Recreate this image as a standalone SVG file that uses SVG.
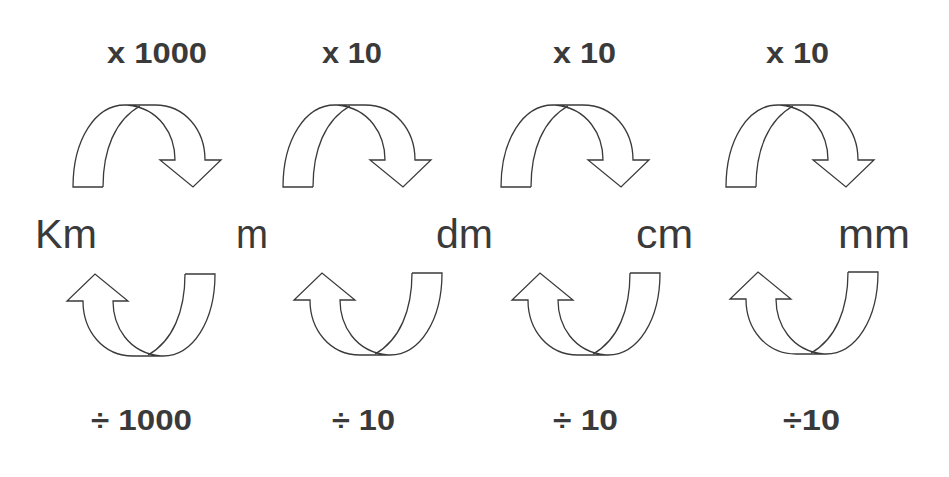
<svg xmlns="http://www.w3.org/2000/svg" xmlns:xlink="http://www.w3.org/1999/xlink" width="949" height="477" viewBox="0 0 949 477">
<style>
.arr{fill:none;stroke:#3a3a3a;stroke-width:1.3;stroke-linejoin:miter}
.op{font-family:"Liberation Sans",Arial,sans-serif;font-weight:bold;font-size:29px;fill:#3a3a3a}
.unit{font-family:"Liberation Sans",Arial,sans-serif;font-size:40px;fill:#3a3a3a}
</style>
<defs>
<g id="curl">
<path class="arr" d="M103,187 L73,187 C73,140 95,105 125,105 L155,105 C185,105 205,130 205,160 L221,160 L193,187 L160,160 L175,160 C175,135 160,108 127,105"/>
<path class="arr" d="M103,187 C103,150 115,120 140,106"/>
</g>
</defs>
<rect width="949" height="477" fill="#ffffff"/>
<g id="connectors">
<use xlink:href="#curl"/>
<use xlink:href="#curl" transform="translate(210,0)"/>
<use xlink:href="#curl" transform="translate(428,0)"/>
<use xlink:href="#curl" transform="translate(653,0)"/>
<use xlink:href="#curl" transform="translate(0,0) rotate(180,144,230.5)"/>
<use xlink:href="#curl" transform="translate(227,-1) rotate(180,144,230.5)"/>
<use xlink:href="#curl" transform="translate(445,-1) rotate(180,144,230.5)"/>
<use xlink:href="#curl" transform="translate(663,-2) rotate(180,144,230.5)"/>
</g>
<g id="labels-top">
<text class="op" x="107" y="63" textLength="100" lengthAdjust="spacingAndGlyphs">x 1000</text>
<text class="op" x="322" y="63" textLength="60" lengthAdjust="spacingAndGlyphs">x 10</text>
<text class="op" x="553" y="63" textLength="63" lengthAdjust="spacingAndGlyphs">x 10</text>
<text class="op" x="766" y="63" textLength="63" lengthAdjust="spacingAndGlyphs">x 10</text>
</g>
<g id="node-km"><text class="unit" x="35" y="248" textLength="62" lengthAdjust="spacingAndGlyphs">Km</text></g>
<g id="node-m"><text class="unit" x="236" y="248" textLength="32" lengthAdjust="spacingAndGlyphs">m</text></g>
<g id="node-dm"><text class="unit" x="436" y="248" textLength="57" lengthAdjust="spacingAndGlyphs">dm</text></g>
<g id="node-cm"><text class="unit" x="636" y="248" textLength="57" lengthAdjust="spacingAndGlyphs">cm</text></g>
<g id="node-mm"><text class="unit" x="838" y="248" textLength="72" lengthAdjust="spacingAndGlyphs">mm</text></g>
<g id="labels-bottom">
<text class="op" x="91" y="430" textLength="101" lengthAdjust="spacingAndGlyphs">÷ 1000</text>
<text class="op" x="332" y="430" textLength="63" lengthAdjust="spacingAndGlyphs">÷ 10</text>
<text class="op" x="553" y="430" textLength="65" lengthAdjust="spacingAndGlyphs">÷ 10</text>
<text class="op" x="783" y="430" textLength="57" lengthAdjust="spacingAndGlyphs">÷10</text>
</g>
</svg>
